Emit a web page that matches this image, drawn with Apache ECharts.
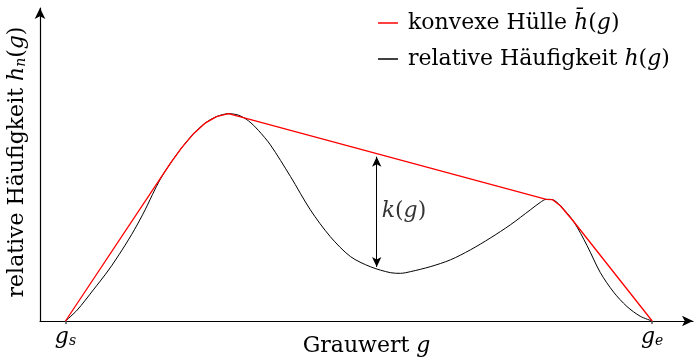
<!DOCTYPE html>
<html>
<head>
<meta charset="utf-8">
<script src="https://cdn.jsdelivr.net/npm/echarts@6/dist/echarts.min.js"></script>
<style>
  html, body { margin: 0; padding: 0; background: #fff; }
  #chart { width: 699px; height: 362px; }
</style>
</head>
<body>
<div id="chart"></div>
<script>
// Grey values g and the relative frequency h(g) (in % of the histogram maximum)
const greyValues = [10, 14.6, 20.9, 26.9, 32.2, 37.0, 41.2, 45.0, 47.9, 51.1, 55.5, 60.3, 64.9, 69.2, 73.9,
  77.8, 81.7, 85.6, 90.3, 98.2, 106.0, 113.8, 121.7, 129.5, 137.4, 141.3, 145.2, 153.0, 160.9, 168.7,
  176.5, 184.4, 192.2, 196.1, 198.5, 200.8, 204.0, 209.2, 214.5, 219.6, 224.9, 230.1, 235.3, 240];
const frequency = [0, 5.3, 15.0, 24.6, 34.3, 44.0, 53.6, 63.3, 70.0, 76.0, 83.5, 90.5, 95.6, 98.6, 100,
  99.3, 96.6, 92.0, 85.0, 69.7, 53.6, 40.7, 31.1, 26.2, 23.3, 23.0, 23.8, 26.2, 29.5, 34.3,
  40.0, 46.4, 53.6, 57.2, 58.7, 58.6, 55.6, 48.0, 36.3, 23.5, 13.9, 7.0, 2.3, 0];

// Convex hull of the histogram
const hullGrey = [10, 51.1, 55.5, 60.3, 64.9, 69.2, 73.9, 198.5, 200.8, 204.0, 209.2, 240];
const hullValues = [0, 76.0, 83.5, 90.5, 95.6, 98.6, 100, 58.7, 58.6, 55.6, 48.0, 0];

// Start / end grey value and the position where the distance k(g) is shown
const gStart = 10;
const gEnd = 240;
const kPosition = 132;

const SERIF = '"DejaVu Serif", "Liberation Serif", serif';
const FS = 22;

function interp(xs, ys, x) {
  for (let i = 0; i < xs.length - 1; i++) {
    if (x >= xs[i] && x <= xs[i + 1]) {
      const t = (x - xs[i]) / (xs[i + 1] - xs[i]);
      return ys[i] + t * (ys[i + 1] - ys[i]);
    }
  }
  return 0;
}

const kTop = interp(hullGrey, hullValues, kPosition);
const kBottom = interp(greyValues, frequency, kPosition);

const histData = greyValues.map((g, i) => [g, frequency[i]]);
const hullData = hullGrey.map((g, i) => [g, hullValues[i]]);

const richText = {
  t: { fontFamily: SERIF, fontSize: FS, color: '#000' },
  i: { fontFamily: SERIF, fontSize: FS, fontStyle: 'italic', color: '#000' },
  sub: { fontFamily: SERIF, fontSize: 14, fontStyle: 'italic', color: '#000', verticalAlign: 'bottom', lineHeight: 12 }
};

const chart = echarts.init(document.getElementById('chart'), null, { renderer: 'canvas' });

chart.setOption({
  animation: false,
  backgroundColor: '#fff',
  grid: { left: 40, right: 6, top: 8, bottom: 41, containLabel: false, outerBoundsMode: 'none' },
  legend: {
    orient: 'vertical',
    left: 378,
    top: 10,
    padding: 0,
    itemWidth: 20,
    itemHeight: 1.5,
    itemGap: 10,
    icon: 'rect',
    data: ['konvexe Hülle', 'relative Häufigkeit'],
    formatter: function (name) {
      if (name === 'konvexe Hülle') return '{t|konvexe Hülle }{i|h\u0304}{t|(}{i|g}{t|)}';
      return '{t|relative Häufigkeit }{i|h}{t|(}{i|g}{t|)}';
    },
    textStyle: { padding: [0, 0, 0, 5], lineHeight: 26, rich: richText }
  },
  xAxis: {
    type: 'value',
    min: 0,
    max: 256,
    name: '{t|Grauwert }{i|g}',
    nameLocation: 'middle',
    nameGap: 14,
    nameMoveOverlap: false,
    nameTextStyle: { rich: richText },
    axisLine: { onZero: false, symbol: ['none', 'arrow'], symbolSize: [8, 11], lineStyle: { color: '#000', width: 1.2 } },
    axisTick: { show: true, customValues: [gStart, gEnd], length: 3, lineStyle: { color: '#555', width: 1.5 } },
    axisLabel: {
      customValues: [gStart, gEnd],
      margin: 5,
      formatter: function (v) { return v === gStart ? '{i|g}{sub|s}' : '{i|g}{sub|e}'; },
      rich: richText
    },
    splitLine: { show: false }
  },
  yAxis: {
    type: 'value',
    min: 0,
    max: 151,
    name: '{t|relative Häufigkeit }{i|h}{sub|n}{t|(}{i|g}{t|)}',
    nameLocation: 'middle',
    nameGap: 12,
    nameMoveOverlap: false,
    nameTextStyle: { rich: richText, padding: [0, 0, 0, 5] },
    axisLine: { show: true, symbol: ['none', 'arrow'], symbolSize: [8, 11], lineStyle: { color: '#000', width: 1.2 } },
    axisTick: { show: false },
    axisLabel: { show: false },
    splitLine: { show: false }
  },
  series: [
    {
      name: 'relative Häufigkeit',
      type: 'line',
      data: histData,
      smooth: 0.3,
      symbol: 'none',
      color: '#000',
      lineStyle: { color: '#000', width: 1 },
      z: 2,
      markLine: {
        silent: true,
        symbol: ['arrow', 'arrow'],
        symbolSize: [7, 10],
        label: { show: false },
        lineStyle: { color: '#000', width: 1, type: 'solid' },
        data: [[{ coord: [kPosition, kTop - 1.5] }, { coord: [kPosition, kBottom + 0.8] }]]
      }
    },
    {
      name: 'konvexe Hülle',
      type: 'line',
      data: hullData,
      symbol: 'none',
      color: '#ff0000',
      lineStyle: { color: '#ff0000', width: 1.3 },
      z: 3
    },
    {
      name: 'k',
      type: 'scatter',
      silent: true,
      symbolSize: 0,
      data: [[kPosition, (kTop + kBottom) / 2]],
      label: {
        show: true,
        position: 'right',
        distance: 5,
        formatter: '{i|k}{t|(}{i|g}{t|)}',
        rich: richText
      },
      z: 4
    }
  ]
});
</script>
</body>
</html>
